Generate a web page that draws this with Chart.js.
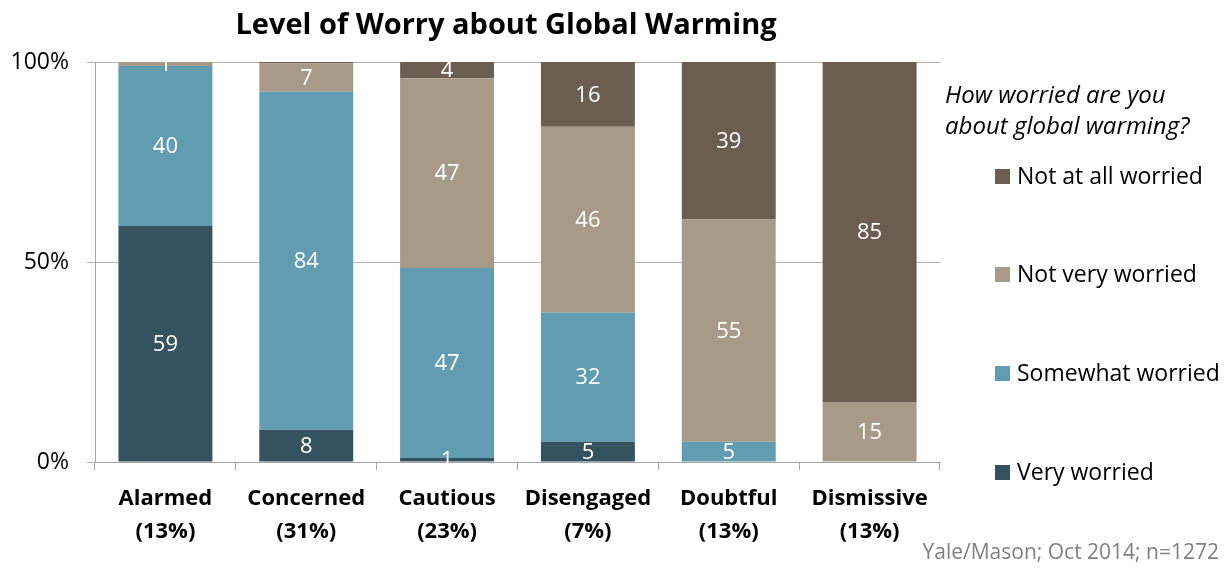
<!DOCTYPE html>
<html>
<head>
<meta charset="utf-8">
<script src="https://cdn.jsdelivr.net/npm/chart.js@4.4.1/dist/chart.umd.min.js"></script>
<style>
    html, body { margin: 0; padding: 0; background: #fff; }
    #wrap { width: 1230px; height: 568px; position: relative; }
</style>
</head>
<body>
<div id="wrap"><canvas id="worry-chart" width="1230" height="568"></canvas></div>
<script>
const categories = [
    ["Alarmed", "(13%)"],
    ["Concerned", "(31%)"],
    ["Cautious", "(23%)"],
    ["Disengaged", "(7%)"],
    ["Doubtful", "(13%)"],
    ["Dismissive", "(13%)"],
]
const veryWorried = [59, 8, 1, 5, 0, 0]
const somewhatWorried = [40, 84, 47, 32, 5, 0]
const notVeryWorried = [1, 7, 47, 46, 55, 15]
const notAtAllWorried = [0, 0.4, 4, 16, 39, 85]
const seriesNames = ["Very worried", "Somewhat worried", "Not very worried", "Not at all worried"]
const seriesColors = ["#34535f", "#629cb1", "#a89a88", "#6b5e51"]
const yTicks = [0, 50, 100]
const chartTitle = "Level of Worry about Global Warming"
const legendTitle = ["How worried are you", "about global warming?"]
const sourceNote = "Yale/Mason; Oct 2014; n=1272"

const FONT = "'Open Sans', 'DejaVu Sans', sans-serif"
const rawSeries = [veryWorried, somewhatWorried, notVeryWorried, notAtAllWorried]

// 100% stacked: share of each bar's total
const totals = categories.map((c, i) => rawSeries.reduce((sum, s) => sum + s[i], 0))
const datasets = rawSeries.map((s, k) => ({
    label: seriesNames[k],
    data: s.map((v, i) => (v / totals[i]) * 100),
    raw: s,
    backgroundColor: seriesColors[k],
    borderWidth: 0,
    barPercentage: 0.667,
    categoryPercentage: 1,
}))

// white numbers in the middle of each segment
const segmentLabels = {
    id: "segmentLabels",
    afterDatasetsDraw(chart) {
        const ctx = chart.ctx
        ctx.save()
        ctx.fillStyle = "#ffffff"
        ctx.font = `22px ${FONT}`
        ctx.textAlign = "center"
        ctx.textBaseline = "middle"
        chart.data.datasets.forEach((ds, k) => {
            const meta = chart.getDatasetMeta(k)
            meta.data.forEach((bar, i) => {
                const v = Math.round(ds.raw[i])
                if (v <= 0) return
                ctx.fillText(String(v), bar.x, (bar.y + bar.base) / 2 + 1)
            })
        })
        ctx.restore()
    },
}

// title, legend block and source note
const decorations = {
    id: "decorations",
    afterDraw(chart) {
        const ctx = chart.ctx
        ctx.save()
        ctx.fillStyle = "#000"
        ctx.textBaseline = "middle"

        ctx.font = `bold 29px ${FONT}`
        ctx.textAlign = "center"
        ctx.fillText(chartTitle, 506, 26)

        ctx.textAlign = "left"
        ctx.font = `italic 24px ${FONT}`
        ctx.fillText(legendTitle[0], 945, 96)
        ctx.fillText(legendTitle[1], 945, 127)

        const itemY = [176, 274, 373, 472]
        ctx.font = `23px ${FONT}`
        for (let n = 0; n < 4; n++) {
            const k = 3 - n
            const ds = chart.data.datasets[k]
            ctx.fillStyle = ds.backgroundColor
            ctx.fillRect(995, itemY[n] - 7, 15, 15)
            ctx.fillStyle = "#000"
            ctx.fillText(ds.label, 1017, itemY[n] + 1)
        }

        ctx.font = `21px ${FONT}`
        ctx.fillStyle = "#808080"
        ctx.textAlign = "right"
        ctx.fillText(sourceNote, 1219, 553)
        ctx.restore()
    },
}

const canvas = document.getElementById("worry-chart")
const worryChart = new Chart(canvas, {
    type: "bar",
    data: {
        labels: categories,
        datasets: datasets,
    },
    options: {
        responsive: false,
        animation: false,
        layout: {
            padding: { top: 62, right: 290, left: 0, bottom: 0 },
        },
        plugins: {
            legend: { display: false },
            title: { display: false },
            tooltip: { enabled: false },
        },
        scales: {
            x: {
                stacked: true,
                grid: {
                    drawOnChartArea: false,
                    drawTicks: true,
                    tickLength: 8,
                    color: "#a6a6a6",
                },
                border: { color: "#a6a6a6" },
                ticks: {
                    color: "#000",
                    padding: 12,
                    font: { family: FONT, size: 22, weight: "bold", lineHeight: 1.5 },
                },
                afterFit(scale) {
                    scale.height = 106
                },
            },
            y: {
                stacked: true,
                min: 0,
                max: 100,
                afterBuildTicks(scale) {
                    scale.ticks = yTicks.map((v) => ({ value: v }))
                },
                grid: {
                    color: "#b3b3b3",
                    tickLength: 8,
                },
                border: { color: "#a6a6a6" },
                ticks: {
                    color: "#000",
                    padding: 18,
                    font: { family: FONT, size: 23 },
                    callback: (v) => v + "%",
                },
                afterFit(scale) {
                    scale.width = 95
                },
            },
        },
    },
    plugins: [segmentLabels, decorations],
})
</script>
</body>
</html>
